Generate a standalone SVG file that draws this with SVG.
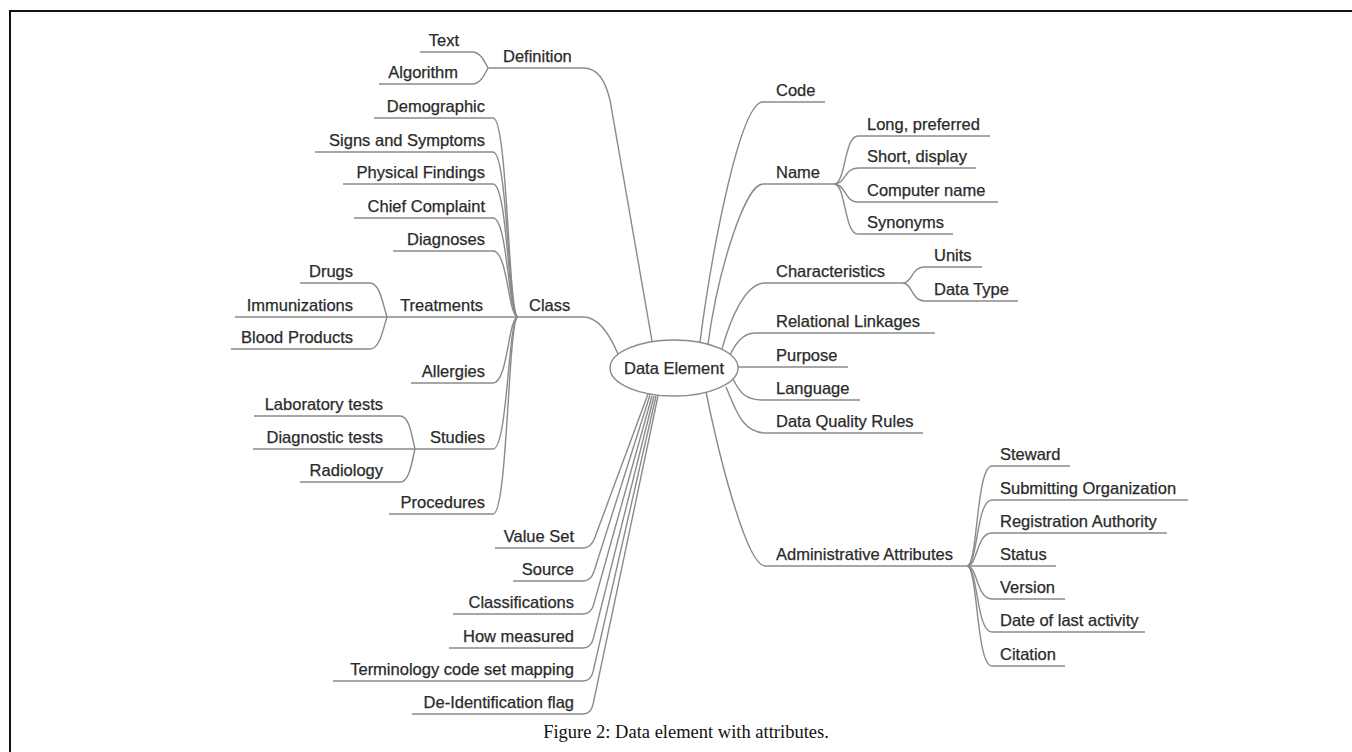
<svg xmlns="http://www.w3.org/2000/svg" width="1352" height="752" viewBox="0 0 1352 752">
<style>
.t{font-family:"Liberation Sans",Arial,sans-serif;font-size:16.5px;fill:#2a2a2a;stroke:#2a2a2a;stroke-width:0.25}
.e{text-anchor:end}
.c{fill:none;stroke:#8a8a8a;stroke-width:1.4}
.cap{font-family:"Liberation Serif","Times New Roman",serif;font-size:18.5px;fill:#111;text-anchor:middle}
</style>
<rect x="0" y="0" width="1352" height="752" fill="#fff"/>
<path d="M10,760 V11 H1360" fill="none" stroke="#111" stroke-width="2"/>
<g id="connectors">
<path class="c" d="M420,52 H472 C480,52 484,60 488,68"/>
<path class="c" d="M379,84 H472 C480,84 484,76 488,68"/>
<path class="c" d="M488,68 H583 C598,68 605,80 610,100 L652,341"/>
<path class="c" d="M518,317 H583 C598,317 610,335 618,354"/>
<path class="c" d="M374,118 H493 C508,118 508,317 518,317"/>
<path class="c" d="M315,152 H493 C508,152 508,317 518,317"/>
<path class="c" d="M343,184 H493 C508,184 508,317 518,317"/>
<path class="c" d="M354,218 H493 C508,218 508,317 518,317"/>
<path class="c" d="M393,251 H493 C508,251 508,317 518,317"/>
<path class="c" d="M387,317 H518"/>
<path class="c" d="M300,283 H370 C380,283 383,305 387,317"/>
<path class="c" d="M235,317 H387"/>
<path class="c" d="M231,349 H370 C380,349 383,329 387,317"/>
<path class="c" d="M411,383 H493 C508,383 508,317 518,317"/>
<path class="c" d="M415,449 H493 C508,449 508,317 518,317"/>
<path class="c" d="M254,416 H400 C410,416 412,438 415,449"/>
<path class="c" d="M253,449 H415"/>
<path class="c" d="M300,482 H400 C410,482 412,460 415,449"/>
<path class="c" d="M389,514 H493 C508,514 508,317 518,317"/>
<path class="c" d="M495,548 H583 Q591,548 594.5,538.6 L648,394"/>
<path class="c" d="M513,581 H583 Q591,581 594,571.5 L650,395"/>
<path class="c" d="M453,614 H583 Q591,614 593.7,604.4 L652,396"/>
<path class="c" d="M449,648 H583 Q591,648 593.4,638.3 L654,396"/>
<path class="c" d="M333,681 H583 Q591,681 593.2,671.2 L656,396"/>
<path class="c" d="M412,714 H583 Q591,714 593.1,704.2 L658,396"/>
<path class="c" d="M825,102 H763 C740,102 712,250 700,342"/>
<path class="c" d="M834,184 H763 C745,184 718,270 708,344"/>
<path class="c" d="M834,184 C846,184 844,136 858,136 H990"/>
<path class="c" d="M834,184 C846,184 844,168 858,168 H976"/>
<path class="c" d="M834,184 C846,184 844,202 858,202 H998"/>
<path class="c" d="M834,184 C846,184 844,234 858,234 H953"/>
<path class="c" d="M903,283 H765 C745,283 730,320 722,349"/>
<path class="c" d="M903,283 C912,283 912,267 924,267 H982"/>
<path class="c" d="M903,283 C912,283 912,301 924,301 H1018"/>
<path class="c" d="M935,333 H755 C742,333 735,345 730,355"/>
<path class="c" d="M738,367 H848"/>
<path class="c" d="M733,379 C740,393 746,400 762,400 H860"/>
<path class="c" d="M726,387 C736,410 742,433 766,433 H923"/>
<path class="c" d="M967,566 H765 C748,566 722,470 706,392"/>
<path class="c" d="M967,566 C978,566 976,466 992,466 H1070"/>
<path class="c" d="M967,566 C978,566 976,500 992,500 H1188"/>
<path class="c" d="M967,566 C978,566 976,533 992,533 H1167"/>
<path class="c" d="M967,566 H1056"/>
<path class="c" d="M967,566 C978,566 976,599 992,599 H1065"/>
<path class="c" d="M967,566 C978,566 976,632 992,632 H1145"/>
<path class="c" d="M967,566 C978,566 976,666 992,666 H1065"/>
</g>
<g id="n-data-element">
<ellipse cx="674" cy="368" rx="64" ry="28" fill="#fff" stroke="#8a8a8a" stroke-width="1.4"/>
<text class="t" x="674" y="374" text-anchor="middle">Data Element</text>
</g>
<g id="n-definition"><text class="t" x="503" y="62">Definition</text></g>
<g id="n-text"><text class="t e" x="459" y="46">Text</text></g>
<g id="n-algorithm"><text class="t e" x="458" y="78">Algorithm</text></g>
<g id="n-class"><text class="t" x="529" y="311">Class</text></g>
<g id="n-demographic"><text class="t e" x="485" y="112">Demographic</text></g>
<g id="n-signs"><text class="t e" x="485" y="146">Signs and Symptoms</text></g>
<g id="n-physical"><text class="t e" x="485" y="178">Physical Findings</text></g>
<g id="n-chief"><text class="t e" x="485" y="212">Chief Complaint</text></g>
<g id="n-diagnoses"><text class="t e" x="485" y="245">Diagnoses</text></g>
<g id="n-treatments"><text class="t e" x="483" y="311">Treatments</text></g>
<g id="n-drugs"><text class="t e" x="353" y="277">Drugs</text></g>
<g id="n-immunizations"><text class="t e" x="353" y="311">Immunizations</text></g>
<g id="n-blood"><text class="t e" x="353" y="343">Blood Products</text></g>
<g id="n-allergies"><text class="t e" x="485" y="377">Allergies</text></g>
<g id="n-studies"><text class="t e" x="485" y="443">Studies</text></g>
<g id="n-lab"><text class="t e" x="383" y="410">Laboratory tests</text></g>
<g id="n-diagtests"><text class="t e" x="383" y="443">Diagnostic tests</text></g>
<g id="n-radiology"><text class="t e" x="383" y="476">Radiology</text></g>
<g id="n-procedures"><text class="t e" x="485" y="508">Procedures</text></g>
<g id="n-valueset"><text class="t e" x="574" y="542">Value Set</text></g>
<g id="n-source"><text class="t e" x="574" y="575">Source</text></g>
<g id="n-classifications"><text class="t e" x="574" y="608">Classifications</text></g>
<g id="n-howmeasured"><text class="t e" x="574" y="642">How measured</text></g>
<g id="n-terminology"><text class="t e" x="574" y="675">Terminology code set mapping</text></g>
<g id="n-deid"><text class="t e" x="574" y="708">De-Identification flag</text></g>
<g id="n-code"><text class="t" x="776" y="96">Code</text></g>
<g id="n-name"><text class="t" x="776" y="178">Name</text></g>
<g id="n-long"><text class="t" x="867" y="130">Long, preferred</text></g>
<g id="n-short"><text class="t" x="867" y="162">Short, display</text></g>
<g id="n-computer"><text class="t" x="867" y="196">Computer name</text></g>
<g id="n-synonyms"><text class="t" x="867" y="228">Synonyms</text></g>
<g id="n-characteristics"><text class="t" x="776" y="277">Characteristics</text></g>
<g id="n-units"><text class="t" x="934" y="261">Units</text></g>
<g id="n-datatype"><text class="t" x="934" y="295">Data Type</text></g>
<g id="n-relational"><text class="t" x="776" y="327">Relational Linkages</text></g>
<g id="n-purpose"><text class="t" x="776" y="361">Purpose</text></g>
<g id="n-language"><text class="t" x="776" y="394">Language</text></g>
<g id="n-dqr"><text class="t" x="776" y="427">Data Quality Rules</text></g>
<g id="n-admin"><text class="t" x="776" y="560">Administrative Attributes</text></g>
<g id="n-steward"><text class="t" x="1000" y="460">Steward</text></g>
<g id="n-submitting"><text class="t" x="1000" y="494">Submitting Organization</text></g>
<g id="n-registration"><text class="t" x="1000" y="527">Registration Authority</text></g>
<g id="n-status"><text class="t" x="1000" y="560">Status</text></g>
<g id="n-version"><text class="t" x="1000" y="593">Version</text></g>
<g id="n-date"><text class="t" x="1000" y="626">Date of last activity</text></g>
<g id="n-citation"><text class="t" x="1000" y="660">Citation</text></g>
<g id="caption"><text class="cap" x="686" y="738">Figure 2: Data element with attributes.</text></g>
</svg>
